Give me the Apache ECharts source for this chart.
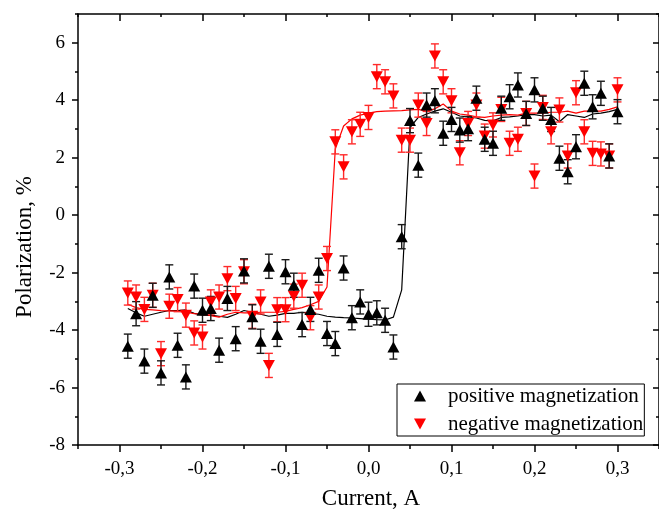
<!DOCTYPE html>
<html><head><meta charset="utf-8">
<script src="https://cdn.jsdelivr.net/npm/echarts@6/dist/echarts.min.js"></script>
<style>html,body{margin:0;padding:0;background:#fff}#c{width:659px;height:513px}</style>
</head><body><div id="c"></div>
<script>
const CURRENT = [-0.29,-0.28,-0.27,-0.26,-0.25,-0.24,-0.23,-0.22,-0.21,-0.20,
  -0.19,-0.18,-0.17,-0.16,-0.15,-0.14,-0.13,-0.12,-0.11,-0.10,
  -0.09,-0.08,-0.07,-0.06,-0.05,-0.04,-0.03,-0.02,-0.01,0.00,
  0.01,0.02,0.03,0.04,0.05,0.06,0.07,0.08,0.09,0.10,
  0.11,0.12,0.13,0.14,0.15,0.16,0.17,0.18,0.19,0.20,
  0.21,0.22,0.23,0.24,0.25,0.26,0.27,0.28,0.29,0.30];
const POS_MAG = [-4.56,-3.43,-5.08,-2.79,-5.49,-2.15,-4.53,-5.63,-2.47,-3.31,
  -3.25,-4.70,-2.90,-4.30,-1.94,-3.54,-4.39,-1.78,-4.15,-1.97,
  -2.44,-3.81,-3.28,-1.92,-4.12,-4.47,-1.84,-3.57,-3.02,-3.45,
  -3.40,-3.66,-4.59,-0.75,3.29,1.74,3.83,3.98,2.85,3.33,
  2.96,3.01,4.07,2.64,2.50,3.72,4.12,4.53,3.54,4.36,
  3.72,3.33,1.98,1.51,2.38,4.59,3.77,4.24,2.06,3.60];
const NEG_MAG = [-2.71,-2.85,-3.28,-2.79,-4.82,-3.17,-2.94,-3.48,-4.10,-4.24,
  -3.02,-2.85,-2.21,-2.90,-1.97,-3.52,-3.02,-5.23,-3.29,-3.29,
  -2.82,-2.44,-3.57,-2.85,-1.51,2.55,1.68,2.90,3.16,3.40,
  4.82,4.64,4.15,2.61,2.61,3.83,3.19,5.54,4.64,3.98,
  2.17,3.19,3.83,2.75,3.14,3.68,2.50,2.64,3.54,1.36,
  3.75,2.90,3.66,2.06,4.26,2.90,2.15,2.13,2.06,4.36];
const POS_FIT = [-3.25,-3.40,-3.52,-3.45,-3.38,-3.32,-3.32,-3.30,-3.42,-3.48,
  -3.48,-3.52,-3.56,-3.45,-3.32,-3.38,-3.45,-3.52,-3.48,-3.42,
  -3.42,-3.38,-3.42,-3.45,-3.52,-3.55,-3.57,-3.58,-3.60,-3.62,
  -3.64,-3.65,-3.55,-2.60,3.05,3.40,3.52,3.62,3.70,3.58,
  3.45,3.42,3.38,3.30,3.28,3.40,3.42,3.45,3.50,3.50,
  3.45,3.48,3.25,3.50,3.45,3.40,3.52,3.55,3.60,3.68];
const NEG_FIT = [-3.10,-3.22,-3.28,-3.30,-3.32,-3.33,-3.34,-3.38,-3.43,-3.45,
  -3.50,-3.55,-3.45,-3.38,-3.40,-3.40,-3.38,-3.38,-3.38,-3.35,
  -3.28,-3.22,-3.12,-3.00,-2.50,2.30,3.10,3.35,3.48,3.55,
  3.60,3.62,3.63,3.64,3.66,3.68,3.62,3.70,3.87,3.62,
  3.52,3.48,3.42,3.40,3.45,3.48,3.50,3.48,3.55,3.55,
  3.55,3.58,3.58,3.62,3.55,3.62,3.62,3.62,3.68,3.77];
const POS_ERR = 0.42;
const NEG_ERR = 0.42;
const X_MAJOR = [-0.3,-0.2,-0.1,0,0.1,0.2,0.3];
const X_MINOR = [-0.35,-0.25,-0.15,-0.05,0.05,0.15,0.25,0.35];
const Y_MAJOR = [-8,-6,-4,-2,0,2,4,6];
const Y_MINOR = [-7,-5,-3,-1,1,3,5,7];

const FONT = '"Liberation Serif", "Times New Roman", serif';
const X_MIN = -0.35, X_MAX = 0.35, Y_MIN = -8, Y_MAX = 7;

function xAxisDef(pos, ticks, len, inside, withLine, labels) {
  return {
    type: 'value', position: pos, min: X_MIN, max: X_MAX,
    axisLine: { show: withLine, onZero: false, lineStyle: { color: '#000', width: 1.5 } },
    axisTick: { show: true, inside: inside, customValues: ticks, length: len, lineStyle: { color: '#000', width: 1.5 } },
    axisLabel: labels ? { show: true, customValues: ticks, formatter: v => Number(v).toFixed(1).replace('.', ','),
      fontFamily: FONT, fontSize: 19, color: '#000', margin: 15 } : { show: false },
    splitLine: { show: false }
  };
}
function yAxisDef(pos, ticks, len, inside, withLine, labels) {
  return {
    type: 'value', position: pos, min: Y_MIN, max: Y_MAX,
    axisLine: { show: withLine, onZero: false, lineStyle: { color: '#000', width: 1.5 } },
    axisTick: { show: true, inside: inside, customValues: ticks, length: len, lineStyle: { color: '#000', width: 1.5 } },
    axisLabel: labels ? { show: true, customValues: ticks, formatter: v => String(v),
      fontFamily: FONT, fontSize: 19, color: '#000', margin: 13 } : { show: false },
    splitLine: { show: false }
  };
}

function pairs(ys) { return CURRENT.map((x, i) => [x, ys[i]]); }
function errData(ys, e) { return CURRENT.map((x, i) => [x, ys[i], e]); }

function errRender(color) {
  return function (params, api) {
    const x = api.value(0), y = api.value(1), e = api.value(2);
    const top = api.coord([x, y + e]);
    const bot = api.coord([x, y - e]);
    const hw = 4;
    const st = { stroke: color, lineWidth: 1.4 };
    return {
      type: 'group',
      children: [
        { type: 'line', shape: { x1: top[0], y1: top[1], x2: bot[0], y2: bot[1] }, style: st },
        { type: 'line', shape: { x1: top[0] - hw, y1: top[1], x2: top[0] + hw, y2: top[1] }, style: st },
        { type: 'line', shape: { x1: bot[0] - hw, y1: bot[1], x2: bot[0] + hw, y2: bot[1] }, style: st }
      ]
    };
  };
}

const DOWN_TRI = 'path://M0,0L10,0L5,9Z';
const UP_TRI = 'path://M5,0L10,9L0,9Z';

const chart = echarts.init(document.getElementById('c'), null, { renderer: 'canvas' });
chart.setOption({
  animation: false,
  backgroundColor: '#fff',
  textStyle: { fontFamily: FONT },
  grid: { left: 78, top: 14, width: 585, height: 431, containLabel: false },
  xAxis: [
    xAxisDef('bottom', X_MAJOR, 7, false, true, true),
    xAxisDef('bottom', X_MINOR, 4, false, false, false),
    xAxisDef('top', X_MAJOR, 7, true, true, false),
    xAxisDef('top', X_MINOR, 3, true, false, false)
  ],
  yAxis: [
    yAxisDef('left', Y_MAJOR, 6, false, true, true),
    yAxisDef('left', Y_MINOR, 3, false, false, false),
    yAxisDef('right', Y_MAJOR, 6, true, true, false),
    yAxisDef('right', Y_MINOR, 3, true, false, false)
  ],
  graphic: [
    { type: 'text', x: 371, y: 499, style: { text: 'Current, A', font: '23px "Liberation Serif"', fill: '#000', align: 'center', verticalAlign: 'middle' } },
    { type: 'text', rotation: Math.PI / 2, x: 25, y: 247, style: { text: 'Polarization, %', font: '23px "Liberation Serif"', fill: '#000', align: 'center', verticalAlign: 'middle' } }
  ],
  legend: {
    left: 397, top: 384, orient: 'vertical',
    backgroundColor: '#fff', borderColor: '#000', borderWidth: 1,
    padding: [1, 1, 1, 17], itemGap: 6, itemWidth: 12, itemHeight: 11,
    selectedMode: false,
    textStyle: { fontFamily: FONT, fontSize: 21, color: '#000', lineHeight: 22, padding: [0, 0, 0, 17] },
    data: [
      { name: 'positive magnetization', icon: UP_TRI },
      { name: 'negative magnetization', icon: DOWN_TRI }
    ]
  },
  series: [
    { name: 'pos fit', type: 'line', data: pairs(POS_FIT), showSymbol: false, symbol: 'none',
      lineStyle: { color: '#000', width: 1.2 }, z: 2, silent: true },
    { name: 'neg fit', type: 'line', data: pairs(NEG_FIT), showSymbol: false, symbol: 'none',
      lineStyle: { color: '#ff0000', width: 1.2 }, z: 2, silent: true },
    { name: 'neg err', type: 'custom', data: errData(NEG_MAG, NEG_ERR), renderItem: errRender('#ff2a2a'), z: 3, silent: true },
    { name: 'pos err', type: 'custom', data: errData(POS_MAG, POS_ERR), renderItem: errRender('#1a1a1a'), z: 3, silent: true },
    { name: 'negative magnetization', type: 'scatter', data: pairs(NEG_MAG), symbol: DOWN_TRI,
      symbolSize: [12, 11], itemStyle: { color: '#ff0000', opacity: 1 }, z: 5 },
    { name: 'positive magnetization', type: 'scatter', data: pairs(POS_MAG), symbol: UP_TRI,
      symbolSize: [12, 11], itemStyle: { color: '#000', opacity: 1 }, z: 6 }
  ]
});
</script>
</body></html>
